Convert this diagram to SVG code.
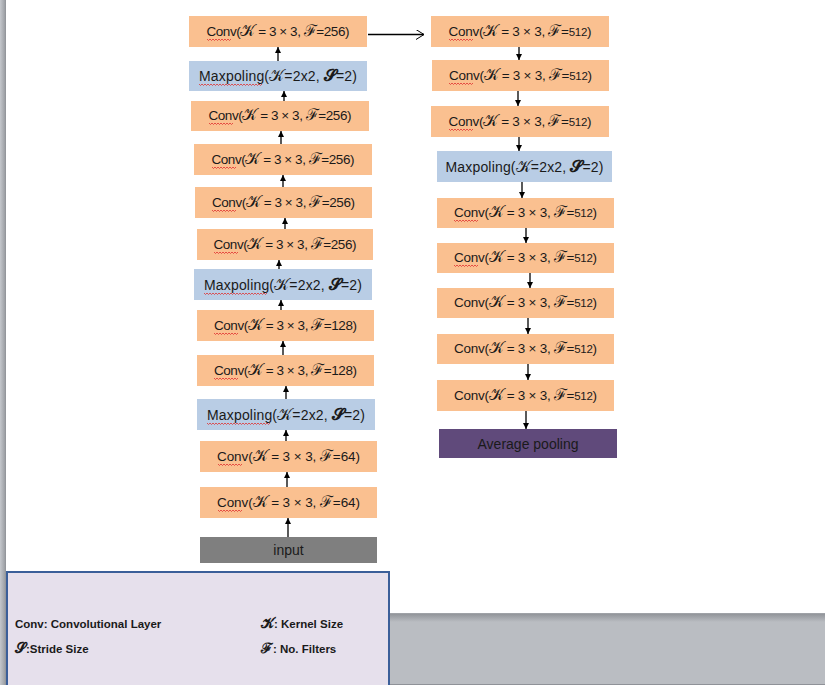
<svg xmlns="http://www.w3.org/2000/svg" xmlns:xlink="http://www.w3.org/1999/xlink" width="825" height="685" viewBox="0 0 825 685">
<style>
.conv{fill:#fac090}
.pool{fill:#b9cde5}
.t{font-family:"Liberation Sans",Arial,sans-serif;font-size:13.5px;fill:#1a1a1a;text-anchor:middle}
.tp{font-family:"Liberation Sans",Arial,sans-serif;font-size:14px;fill:#1a1a1a;text-anchor:middle}
.m{font-family:"DejaVu Serif",serif;font-size:16px}
.sm{font-size:11.5px}
.sq{fill:none;stroke:#e03030;stroke-width:0.8}
.ar{stroke:#000;stroke-width:1.3;fill:none}
.lg{font-family:"Liberation Sans",Arial,sans-serif;font-size:11.5px;font-weight:bold;fill:#1a1a1a}
.lm{font-family:"DejaVu Serif",serif;font-size:14px}
</style>
<defs>
<marker id="ah" viewBox="0 0 6 6" refX="6" refY="3" markerWidth="6" markerHeight="6" markerUnits="userSpaceOnUse" orient="auto"><path d="M0,0 L6,3 L0,6 Z" fill="#000"/></marker>
<marker id="oh" viewBox="0 0 8 10" refX="8" refY="5" markerWidth="8" markerHeight="10" markerUnits="userSpaceOnUse" orient="auto"><path d="M0,0 L8,5 L0,10" fill="none" stroke="#000" stroke-width="1"/></marker>
<path id="sq24" class="sq" d="M0,0 l1.5,1.5 l1.5,-1.5 l1.5,1.5 l1.5,-1.5 l1.5,1.5 l1.5,-1.5 l1.5,1.5 l1.5,-1.5 l1.5,1.5 l1.5,-1.5 l1.5,1.5 l1.5,-1.5 l1.5,1.5 l1.5,-1.5 l1.5,1.5 l1.5,-1.5"/>
<path id="sq63" class="sq" d="M0,0 l1.5,1.5 l1.5,-1.5 l1.5,1.5 l1.5,-1.5 l1.5,1.5 l1.5,-1.5 l1.5,1.5 l1.5,-1.5 l1.5,1.5 l1.5,-1.5 l1.5,1.5 l1.5,-1.5 l1.5,1.5 l1.5,-1.5 l1.5,1.5 l1.5,-1.5 l1.5,1.5 l1.5,-1.5 l1.5,1.5 l1.5,-1.5 l1.5,1.5 l1.5,-1.5 l1.5,1.5 l1.5,-1.5 l1.5,1.5 l1.5,-1.5 l1.5,1.5 l1.5,-1.5 l1.5,1.5 l1.5,-1.5 l1.5,1.5 l1.5,-1.5 l1.5,1.5 l1.5,-1.5 l1.5,1.5 l1.5,-1.5 l1.5,1.5 l1.5,-1.5 l1.5,1.5 l1.5,-1.5 l1.5,1.5 l1.5,-1.5"/>
<linearGradient id="lstrip" x1="0" y1="0" x2="1" y2="0"><stop offset="0" stop-color="#c4c7cc"/><stop offset="0.7" stop-color="#a3a6ab"/><stop offset="1" stop-color="#8e9196"/></linearGradient>
<linearGradient id="bshadow" x1="0" y1="0" x2="0" y2="1"><stop offset="0" stop-color="#8d9095"/><stop offset="1" stop-color="#babdc2"/></linearGradient>
</defs>
<rect width="825" height="685" fill="#fff"/>
<rect x="0" y="0" width="6" height="685" fill="url(#lstrip)"/>
<rect x="390" y="613" width="435" height="72" fill="#babdc2"/>
<rect x="390" y="613" width="435" height="9" fill="url(#bshadow)"/>
<line x1="390" y1="613.5" x2="825" y2="613.5" stroke="#9fa2a7"/>
<line x1="390" y1="684.5" x2="825" y2="684.5" stroke="#8f9298"/>

<g id="l1"><rect class="conv" x="189" y="16" width="178" height="31"/><text class="t" x="278" y="36" textLength="143">Conv(<tspan class="m">𝒦</tspan> = 3 × 3, <tspan class="m">ℱ</tspan>=256)</text><use xlink:href="#sq24" x="207" y="39"/></g>
<g id="l2"><rect class="pool" x="189" y="61" width="178" height="30"/><text class="tp" x="278" y="81" textLength="158">Maxpoling(<tspan class="m">𝒦</tspan>=2x2, <tspan class="m" font-weight="bold">𝓢</tspan>=2)</text><use xlink:href="#sq63" x="199" y="84"/></g>
<g id="l3"><rect class="conv" x="191" y="101" width="178" height="30"/><text class="t" x="280" y="120" textLength="143">Conv(<tspan class="m">𝒦</tspan> = 3 × 3, <tspan class="m">ℱ</tspan>=256)</text><use xlink:href="#sq24" x="209" y="123"/></g>
<g id="l4"><rect class="conv" x="194" y="144" width="178" height="31"/><text class="t" x="283" y="164" textLength="143">Conv(<tspan class="m">𝒦</tspan> = 3 × 3, <tspan class="m">ℱ</tspan>=256)</text><use xlink:href="#sq24" x="212" y="167"/></g>
<g id="l5"><rect class="conv" x="195" y="187" width="177" height="31"/><text class="t" x="283.5" y="207" textLength="143">Conv(<tspan class="m">𝒦</tspan> = 3 × 3, <tspan class="m">ℱ</tspan>=256)</text><use xlink:href="#sq24" x="212" y="210"/></g>
<g id="l6"><rect class="conv" x="197" y="229" width="176" height="31"/><text class="t" x="285" y="249" textLength="143">Conv(<tspan class="m">𝒦</tspan> = 3 × 3, <tspan class="m">ℱ</tspan>=256)</text><use xlink:href="#sq24" x="214" y="252"/></g>
<g id="l7"><rect class="pool" x="194" y="269" width="178" height="31"/><text class="tp" x="283" y="290" textLength="158">Maxpoling(<tspan class="m">𝒦</tspan>=2x2, <tspan class="m" font-weight="bold">𝓢</tspan>=2)</text><use xlink:href="#sq63" x="204" y="293"/></g>
<g id="l8"><rect class="conv" x="197" y="310" width="177" height="31"/><text class="t" x="285.5" y="330" textLength="143">Conv(<tspan class="m">𝒦</tspan> = 3 × 3, <tspan class="m">ℱ</tspan>=128)</text><use xlink:href="#sq24" x="214" y="333"/></g>
<g id="l9"><rect class="conv" x="197" y="355" width="177" height="31"/><text class="t" x="285.5" y="375" textLength="143">Conv(<tspan class="m">𝒦</tspan> = 3 × 3, <tspan class="m">ℱ</tspan>=128)</text><use xlink:href="#sq24" x="214" y="378"/></g>
<g id="l10"><rect class="pool" x="197" y="399" width="178" height="31"/><text class="tp" x="286" y="420" textLength="158">Maxpoling(<tspan class="m">𝒦</tspan>=2x2, <tspan class="m" font-weight="bold">𝓢</tspan>=2)</text><use xlink:href="#sq63" x="207" y="423"/></g>
<g id="l11"><rect class="conv" x="200" y="441" width="177" height="31"/><text class="t" x="288.5" y="461" textLength="143">Conv(<tspan class="m">𝒦</tspan> = 3 × 3, <tspan class="m">ℱ</tspan>=64)</text><use xlink:href="#sq24" x="218" y="464"/></g>
<g id="l12"><rect class="conv" x="200" y="487" width="177" height="31"/><text class="t" x="288.5" y="507" textLength="143">Conv(<tspan class="m">𝒦</tspan> = 3 × 3, <tspan class="m">ℱ</tspan>=64)</text><use xlink:href="#sq24" x="218" y="510"/></g>
<g id="input"><rect x="200" y="537" width="177" height="26" fill="#7f7f7f"/><text class="tp" x="288.5" y="555">input</text></g>

<g id="r1"><rect class="conv" x="431" y="16" width="178" height="31"/><text class="t" x="520" y="36" textLength="143">Conv(<tspan class="m">𝒦</tspan> = 3 × 3, <tspan class="m">ℱ</tspan>=<tspan class="sm">512</tspan>)</text><use xlink:href="#sq24" x="449" y="39"/></g>
<g id="r2"><rect class="conv" x="432" y="60" width="177" height="31"/><text class="t" x="520.5" y="80" textLength="143">Conv(<tspan class="m">𝒦</tspan> = 3 × 3, <tspan class="m">ℱ</tspan>=<tspan class="sm">512</tspan>)</text><use xlink:href="#sq24" x="449" y="83"/></g>
<g id="r3"><rect class="conv" x="431" y="106" width="178" height="31"/><text class="t" x="520" y="126" textLength="143">Conv(<tspan class="m">𝒦</tspan> = 3 × 3, <tspan class="m">ℱ</tspan>=<tspan class="sm">512</tspan>)</text><use xlink:href="#sq24" x="449" y="129"/></g>
<g id="r4"><rect class="pool" x="437" y="151" width="175" height="31"/><text class="tp" x="524.5" y="172" textLength="158">Maxpoling(<tspan class="m">𝒦</tspan>=2x2, <tspan class="m" font-weight="bold">𝓢</tspan>=2)</text></g>
<g id="r5"><rect class="conv" x="437" y="198" width="177" height="30"/><text class="t" x="525.5" y="217" textLength="143">Conv(<tspan class="m">𝒦</tspan> = 3 × 3, <tspan class="m">ℱ</tspan>=<tspan class="sm">512</tspan>)</text><use xlink:href="#sq24" x="454" y="220"/></g>
<g id="r6"><rect class="conv" x="437" y="243" width="177" height="30"/><text class="t" x="525.5" y="262" textLength="143">Conv(<tspan class="m">𝒦</tspan> = 3 × 3, <tspan class="m">ℱ</tspan>=<tspan class="sm">512</tspan>)</text><use xlink:href="#sq24" x="454" y="265"/></g>
<g id="r7"><rect class="conv" x="437" y="288" width="177" height="30"/><text class="t" x="525.5" y="307" textLength="143">Conv(<tspan class="m">𝒦</tspan> = 3 × 3, <tspan class="m">ℱ</tspan>=<tspan class="sm">512</tspan>)</text></g>
<g id="r8"><rect class="conv" x="437" y="334" width="177" height="30"/><text class="t" x="525.5" y="353" textLength="143">Conv(<tspan class="m">𝒦</tspan> = 3 × 3, <tspan class="m">ℱ</tspan>=<tspan class="sm">512</tspan>)</text></g>
<g id="r9"><rect class="conv" x="437" y="380" width="177" height="31"/><text class="t" x="525.5" y="400" textLength="143">Conv(<tspan class="m">𝒦</tspan> = 3 × 3, <tspan class="m">ℱ</tspan>=<tspan class="sm">512</tspan>)</text></g>
<g id="avgpool"><rect x="439" y="429" width="178" height="29" fill="#604a7b"/><text class="tp" x="528" y="449">Average pooling</text></g>

<g id="connectors">
<line class="ar" x1="288" y1="537" x2="288" y2="518" marker-end="url(#ah)"/>
<line class="ar" x1="287" y1="487" x2="287" y2="472" marker-end="url(#ah)"/>
<line class="ar" x1="286" y1="441" x2="286" y2="430" marker-end="url(#ah)"/>
<line class="ar" x1="286" y1="399" x2="286" y2="386" marker-end="url(#ah)"/>
<line class="ar" x1="283" y1="355" x2="283" y2="341" marker-end="url(#ah)"/>
<line class="ar" x1="281" y1="310" x2="281" y2="300" marker-end="url(#ah)"/>
<line class="ar" x1="279" y1="269" x2="279" y2="260" marker-end="url(#ah)"/>
<line class="ar" x1="285" y1="229" x2="285" y2="218" marker-end="url(#ah)"/>
<line class="ar" x1="283" y1="187" x2="283" y2="175" marker-end="url(#ah)"/>
<line class="ar" x1="281" y1="144" x2="281" y2="131" marker-end="url(#ah)"/>
<line class="ar" x1="284" y1="101" x2="284" y2="91" marker-end="url(#ah)"/>
<line class="ar" x1="278" y1="61" x2="278" y2="47" marker-end="url(#ah)"/>
<line class="ar" x1="368" y1="34.5" x2="424" y2="34.5" stroke-width="1" marker-end="url(#oh)"/>
<line class="ar" x1="519" y1="47" x2="519" y2="60" marker-end="url(#ah)"/>
<line class="ar" x1="518" y1="91" x2="518" y2="106" marker-end="url(#ah)"/>
<line class="ar" x1="519" y1="137" x2="519" y2="151" marker-end="url(#ah)"/>
<line class="ar" x1="522" y1="182" x2="522" y2="198" marker-end="url(#ah)"/>
<line class="ar" x1="526" y1="228" x2="526" y2="243" marker-end="url(#ah)"/>
<line class="ar" x1="530" y1="273" x2="530" y2="288" marker-end="url(#ah)"/>
<line class="ar" x1="528" y1="318" x2="528" y2="334" marker-end="url(#ah)"/>
<line class="ar" x1="528" y1="364" x2="528" y2="380" marker-end="url(#ah)"/>
<line class="ar" x1="526" y1="411" x2="526" y2="429" marker-end="url(#ah)"/>
</g>

<g id="legend">
<rect x="7" y="572" width="382" height="118" fill="#e6e0ec" stroke="#3b5f99" stroke-width="2"/>
<text class="lg" x="15" y="628">Conv: Convolutional Layer</text>
<text class="lg" x="261" y="628"><tspan class="lm">𝒦</tspan>: Kernel Size</text>
<text class="lg" x="15" y="653"><tspan class="lm">𝓢</tspan>:Stride Size</text>
<text class="lg" x="261" y="653"><tspan class="lm">ℱ</tspan>: No. Filters</text>
</g>
</svg>
